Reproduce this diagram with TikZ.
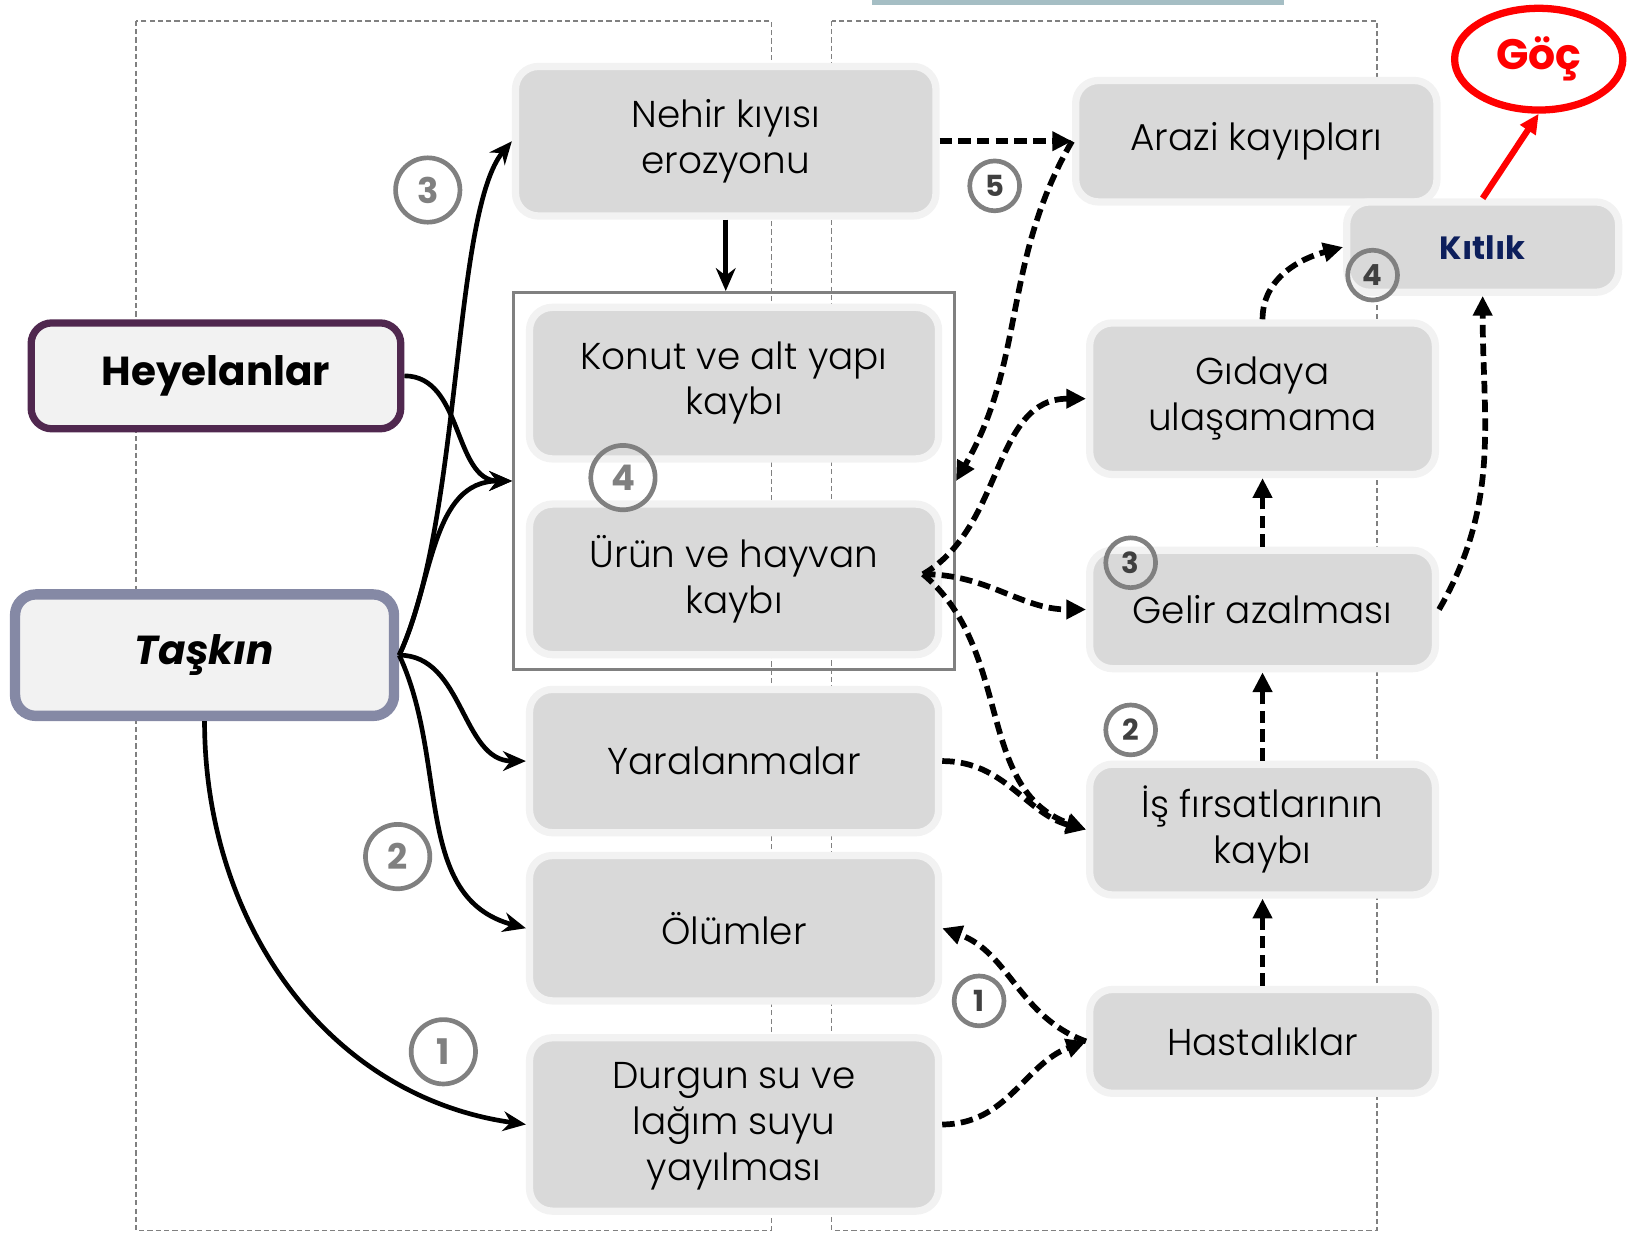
\documentclass[tikz,border=0pt]{standalone}
\usepackage{fontspec}
\setmainfont{Poppins}
\IfFontExistsTF{Poppins Light}{\newfontfamily\boxfont{Poppins Light}}{\newfontfamily\boxfont{Poppins}}
\usepackage{tikz}
\usetikzlibrary{arrows.meta,positioning,fit,calc,shapes.geometric}
\definecolor{boxfill}{HTML}{D9D9D9}
\definecolor{boxrim}{HTML}{F2F2F2}
\definecolor{framegray}{HTML}{808080}
\definecolor{numdark}{HTML}{404040}
\definecolor{heyrim}{HTML}{50284F}
\definecolor{tasrim}{HTML}{8589A5}
\definecolor{kitlikblue}{HTML}{0D1F5C}
\definecolor{topbar}{HTML}{A5BEC4}
\definecolor{gocred}{HTML}{FF0000}

\begin{document}
\begin{tikzpicture}[x=1pt, y=1pt,
  effect/.style={rectangle, rounded corners=22pt, fill=boxfill, draw=boxrim, line width=7pt, align=center, inner sep=0pt, font=\boxfont\fontsize{36}{44}\selectfont},
  hazard/.style={rectangle, rounded corners=20pt, fill=boxrim, align=center, inner sep=0pt, font=\fontsize{39}{46}\selectfont\bfseries},
  numbig/.style={circle, draw=framegray, line width=4.5pt, minimum size=62pt, inner sep=0pt, text=framegray, font=\fontsize{34}{34}\selectfont\bfseries},
  numsmall/.style={circle, draw=framegray, line width=4.5pt, minimum size=48pt, inner sep=0pt, text=numdark, font=\fontsize{28}{28}\selectfont\bfseries},
  cause/.style={-{Stealth[length=22pt,width=19pt]}, line width=4.5pt},
  effectarr/.style={-{Triangle[length=19pt,width=18pt]}, line width=5.5pt, dash pattern=on 12pt off 6pt},
  gocarr/.style={-{Triangle[length=19pt,width=17pt]}, draw=gocred, line width=6pt}]
\useasboundingbox (0,0) rectangle (1568,-1187);

% frames
\fill[topbar] (840,0) rectangle (1237,-5);
\draw[framegray, line width=1.5pt, dash pattern=on 5pt off 3pt] (131,-20) rectangle (743,-1185);
\draw[framegray, line width=1.5pt, dash pattern=on 5pt off 3pt] (801,-20) rectangle (1326,-1185);

% hazards
\node (heyelan) at (208,-362) [hazard, draw=heyrim, line width=7pt, minimum width=356pt, minimum height=102pt] {Heyelanlar};
\node (taskin) at (197,-631) [hazard, draw=tasrim, line width=10pt, minimum width=365pt, minimum height=117pt] {\itshape Taşkın};

% first effects
\node (nehir) at (699,-136) [effect, minimum width=405pt, minimum height=144pt] {Nehir kıyısı\\erozyonu};
\node (konut) at (707,-369) [effect, minimum width=394pt, minimum height=146pt] {Konut ve alt yapı\\kaybı};
\node (urun) at (707,-558) [effect, minimum width=394pt, minimum height=145pt] {Ürün ve hayvan\\kaybı};
\node (yara) at (707,-733) [effect, minimum width=394pt, minimum height=138pt] {Yaralanmalar};
\node (olum) at (707,-894) [effect, minimum width=394pt, minimum height=140pt] {Ölümler};
\node (durgun) at (707,-1083) [effect, minimum width=394pt, minimum height=167pt] {\smash{\raisebox{-8pt}{\parbox{380pt}{\centering Durgun su ve\\lağım suyu\\yayılması}}}};
\node (kayip) [fit=(konut)(urun), draw=framegray, line width=2.5pt, inner xsep=12pt, inner ysep=11pt] {};

% second effects
\node (arazi) at (1210,-136) [effect, minimum width=348pt, minimum height=117pt] {Arazi kayıpları};
\node (gida) at (1216,-384) [effect, minimum width=333pt, minimum height=146pt] {Gıdaya\\ulaşamama};
\node (gelir) at (1216,-587) [effect, minimum width=333pt, minimum height=114pt] {Gelir azalması};
\node (is) at (1216,-799) [effect, minimum width=333pt, minimum height=126pt] {İş fırsatlarının\\kaybı};
\node (hasta) at (1216,-1003) [effect, minimum width=333pt, minimum height=100pt] {Hastalıklar};
\node (kitlik) at (1428,-238) [effect, minimum width=262pt, minimum height=87pt, font=\fontsize{31}{36}\selectfont\bfseries, text=kitlikblue] {Kıtlık};
\node (goc) at (1482,-57) [ellipse, draw=gocred, line width=7pt, minimum width=162pt, minimum height=98pt, inner sep=0pt, text=gocred, font=\fontsize{41}{41}\selectfont\bfseries] {Göç};
\coordinate (urunout) at (889,-553);

% solid links
\draw[cause] (taskin.east) to[out=65,in=230,out looseness=0.72,in looseness=0.45] (nehir.west);
\draw[cause] (taskin.east) to[out=65,in=180] (kayip.west);
\draw[cause] (heyelan.east) to[out=0,in=180] (kayip.west);
\draw[cause] (taskin.east) to[out=0,in=180] (yara.west);
\draw[cause] (taskin.east) to[out=-65,in=165] (olum.west);
\draw[cause] (taskin.south) to[out=-90,in=172] (durgun.west);
\draw[cause] (nehir.south) -- (nehir.south |- kayip.north);

% dashed links
\draw[effectarr] (nehir.east) -- (arazi.west);
\draw[effectarr] (arazi.west) to[out=240,in=60] (kayip.east);
\draw[effectarr] (urunout) to[out=30,in=180] (gida.west);
\draw[effectarr] (urunout) to[out=0,in=180] (gelir.west);
\draw[effectarr] (urunout) to[out=-40,in=160] (is.west);
\draw[effectarr] (yara.east) to[out=0,in=165] (is.west);
\draw[effectarr] (hasta.west) to[out=160,in=-20] (olum.east);
\draw[effectarr] (durgun.east) to[out=0,in=200] (hasta.west);
\draw[effectarr] (hasta.north) -- (is.south);
\draw[effectarr] (is.north) -- (gelir.south);
\draw[effectarr] (gelir.north) -- (gida.south);
\draw[effectarr] (gida.north) to[out=90,in=195] (kitlik.west);
\draw[effectarr] (gelir.east) to[out=60,in=270] (kitlik.south);
\draw[gocarr] (kitlik.north) -- (goc.south);

% steps
\node (n3l) at (412,-183) [numbig] {3};
\node (n4m) at (600,-460) [numbig] {4};
\node (n2l) at (383,-825) [numbig] {2};
\node (n1l) at (427,-1013) [numbig] {1};
\node (n5r) at (958,-179) [numsmall] {5};
\node (n3r) at (1089,-542) [numsmall] {3};
\node (n2r) at (1089,-703) [numsmall] {2};
\node (n4r) at (1322,-265) [numsmall] {4};
\node (n1r) at (943,-964) [numsmall] {1};
\end{tikzpicture}
\end{document}
